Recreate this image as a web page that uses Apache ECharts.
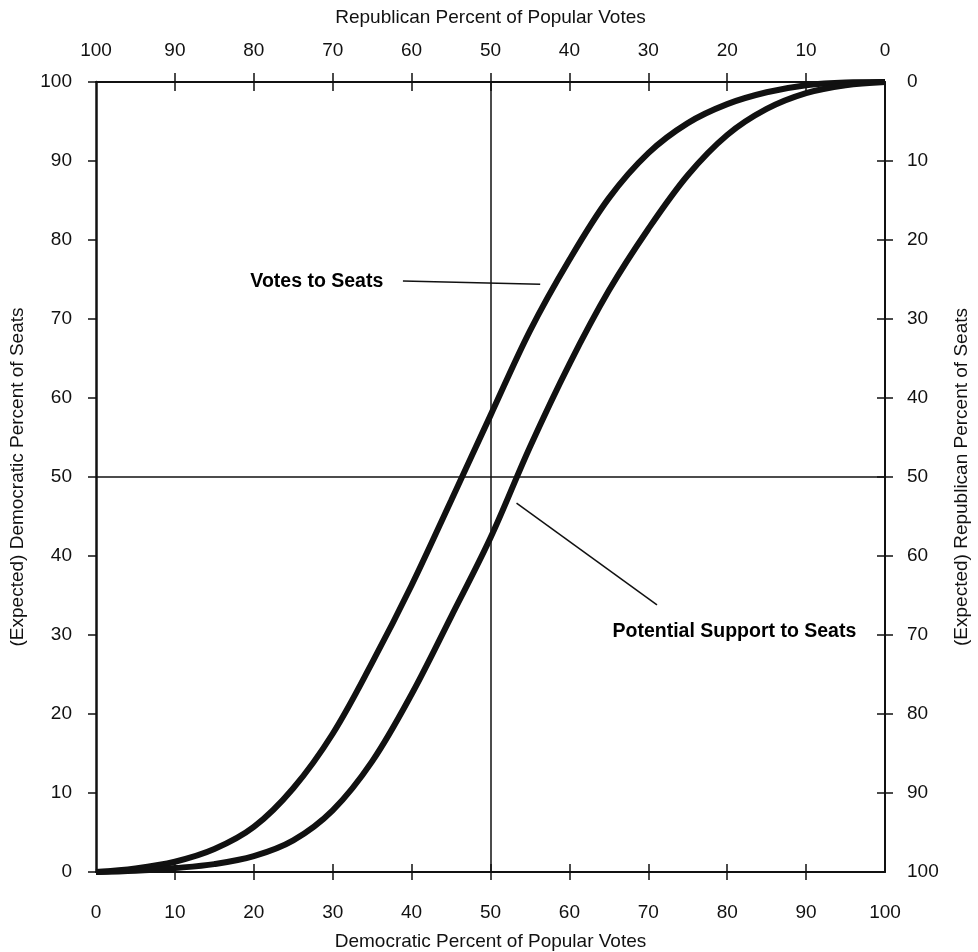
<!DOCTYPE html>
<html>
<head>
<meta charset="utf-8">
<script src="https://cdn.jsdelivr.net/npm/echarts@6/dist/echarts.min.js"></script>
<style>
  html, body { margin: 0; padding: 0; background: #fff; }
  #chart { width: 978px; height: 952px; }
</style>
</head>
<body>
<div id="chart"></div>
<script>
// Democratic percent of popular votes (x)
var demVotes = [0, 5, 10, 15, 20, 25, 30, 35, 40, 45, 50, 55, 60, 65, 70, 75, 80, 85, 90, 95, 100]
// expected democratic percent of seats
var votesToSeats = [0, 0.45, 1.3, 2.9, 5.7, 10.6, 17.5, 26.5, 36.3, 47, 57.8, 68.5, 77.5, 85.3, 91, 94.8, 97.2, 98.7, 99.6, 99.95, 100]
var potentialToSeats = [0, 0.15, 0.5, 1.0, 2.0, 4.0, 7.8, 14, 22.5, 32.3, 42.3, 53.8, 64.3, 73.6, 81.4, 88.2, 93.3, 96.6, 98.6, 99.6, 100]

var tickValues = [0, 10, 20, 30, 40, 50, 60, 70, 80, 90, 100]
var innerTicks = [10, 20, 30, 40, 50, 60, 70, 80, 90]

// annotation leader lines, in data units
var votesLeader = [[38.9, 74.8], [56.3, 74.4]]
var potentialLeader = [[53.3, 46.7], [71.1, 33.8]]
var annotations = [
  { name: 'Votes to Seats', value: [19.5, 74.7] },
  { name: 'Potential Support to Seats', value: [65.4, 30.4] }
]

function pairs(xs, ys) {
  return xs.map(function (x, i) { return [x, ys[i]] })
}

var FONT = 'Liberation Sans, Arial, Helvetica, sans-serif'
var INK = '#111'

function baseAxis(extra) {
  var ax = {
    type: 'value',
    min: 0,
    max: 100,
    interval: 10,
    splitLine: { show: false },
    axisLine: { show: true, onZero: false, lineStyle: { color: INK, width: 2 } },
    axisTick: { show: true, length: 8, lineStyle: { color: INK, width: 1.5 } },
    axisLabel: { show: true, color: INK, fontSize: 19, fontFamily: FONT, customValues: tickValues },
    nameTextStyle: { color: INK, fontSize: 19, fontFamily: FONT },
    nameMoveOverlap: false
  }
  return Object.assign(ax, extra)
}

var hiddenLine = { show: false, onZero: false }

var chart = echarts.init(document.getElementById('chart'), null, { renderer: 'canvas' })

var option = {
  animation: false,
  backgroundColor: '#fff',
  grid: { left: 96, right: 93, top: 82, bottom: 80, outerBoundsMode: 'none' },
  xAxis: [
    baseAxis({
      position: 'bottom',
      name: 'Democratic Percent of Popular Votes',
      nameLocation: 'middle',
      nameGap: 60,
      axisTick: { show: true, length: 8, customValues: innerTicks, lineStyle: { color: INK, width: 1.5 } },
      axisLabel: { show: true, color: INK, fontSize: 19, fontFamily: FONT, margin: 31, customValues: tickValues }
    }),
    baseAxis({
      position: 'bottom',
      axisLine: hiddenLine,
      axisLabel: { show: false },
      axisTick: { show: true, inside: true, length: 8, customValues: innerTicks, lineStyle: { color: INK, width: 1.5 } }
    }),
    baseAxis({
      position: 'top',
      inverse: true,
      name: 'Republican Percent of Popular Votes',
      nameLocation: 'middle',
      nameGap: 55,
      axisTick: { show: true, length: 9, customValues: innerTicks, lineStyle: { color: INK, width: 1.5 } },
      axisLabel: { show: true, color: INK, fontSize: 19, fontFamily: FONT, margin: 22, customValues: tickValues }
    }),
    baseAxis({
      position: 'top',
      inverse: true,
      axisLine: hiddenLine,
      axisLabel: { show: false },
      axisTick: { show: true, inside: true, length: 9, customValues: innerTicks, lineStyle: { color: INK, width: 1.5 } }
    })
  ],
  yAxis: [
    baseAxis({
      position: 'left',
      name: '(Expected) Democratic Percent of Seats',
      nameLocation: 'middle',
      nameRotate: 90,
      nameGap: 69,
      axisLine: { show: true, onZero: false, lineStyle: { color: INK, width: 2.5 } },
      axisTick: { show: true, length: 8, customValues: tickValues, lineStyle: { color: INK, width: 1.5 } },
      axisLabel: { show: true, color: INK, fontSize: 19, fontFamily: FONT, margin: 24, customValues: tickValues }
    }),
    baseAxis({
      position: 'right',
      inverse: true,
      name: '(Expected) Republican Percent of Seats',
      nameLocation: 'middle',
      nameRotate: 90,
      nameGap: 67,
      axisTick: { show: true, length: 8, customValues: innerTicks, lineStyle: { color: INK, width: 1.5 } },
      axisLabel: { show: true, color: INK, fontSize: 19, fontFamily: FONT, margin: 22, customValues: tickValues }
    }),
    baseAxis({
      position: 'right',
      inverse: true,
      axisLine: hiddenLine,
      axisLabel: { show: false },
      axisTick: { show: true, inside: true, length: 8, customValues: innerTicks, lineStyle: { color: INK, width: 1.5 } }
    })
  ],
  series: [
    {
      name: 'Votes to Seats',
      type: 'line',
      xAxisIndex: 0,
      yAxisIndex: 0,
      data: pairs(demVotes, votesToSeats),
      smooth: 0.35,
      symbol: 'none',
      lineStyle: { color: INK, width: 6 },
      markLine: {
        silent: true,
        symbol: 'none',
        label: { show: false },
        lineStyle: { color: INK, width: 1.5, type: 'solid' },
        data: [{ xAxis: 50 }, { yAxis: 50 }]
      },
      z: 3
    },
    {
      name: 'Potential Support to Seats',
      type: 'line',
      xAxisIndex: 0,
      yAxisIndex: 0,
      data: pairs(demVotes, potentialToSeats),
      smooth: 0.35,
      symbol: 'none',
      lineStyle: { color: INK, width: 6 },
      z: 3
    },
    {
      type: 'line',
      data: votesLeader,
      symbol: 'none',
      lineStyle: { color: INK, width: 1.5 }
    },
    {
      type: 'line',
      data: potentialLeader,
      symbol: 'none',
      lineStyle: { color: INK, width: 1.5 }
    },
    {
      type: 'scatter',
      data: annotations,
      symbolSize: 1,
      itemStyle: { color: 'rgba(0,0,0,0)', opacity: 1 },
      label: {
        show: true,
        position: 'right',
        distance: 0,
        formatter: '{b}',
        color: '#000',
        opacity: 1,
        fontSize: 19.5,
        fontWeight: 'bold',
        fontFamily: FONT
      },
      emphasis: { disabled: true }
    }
  ]
}

chart.setOption(option)
</script>
</body>
</html>
